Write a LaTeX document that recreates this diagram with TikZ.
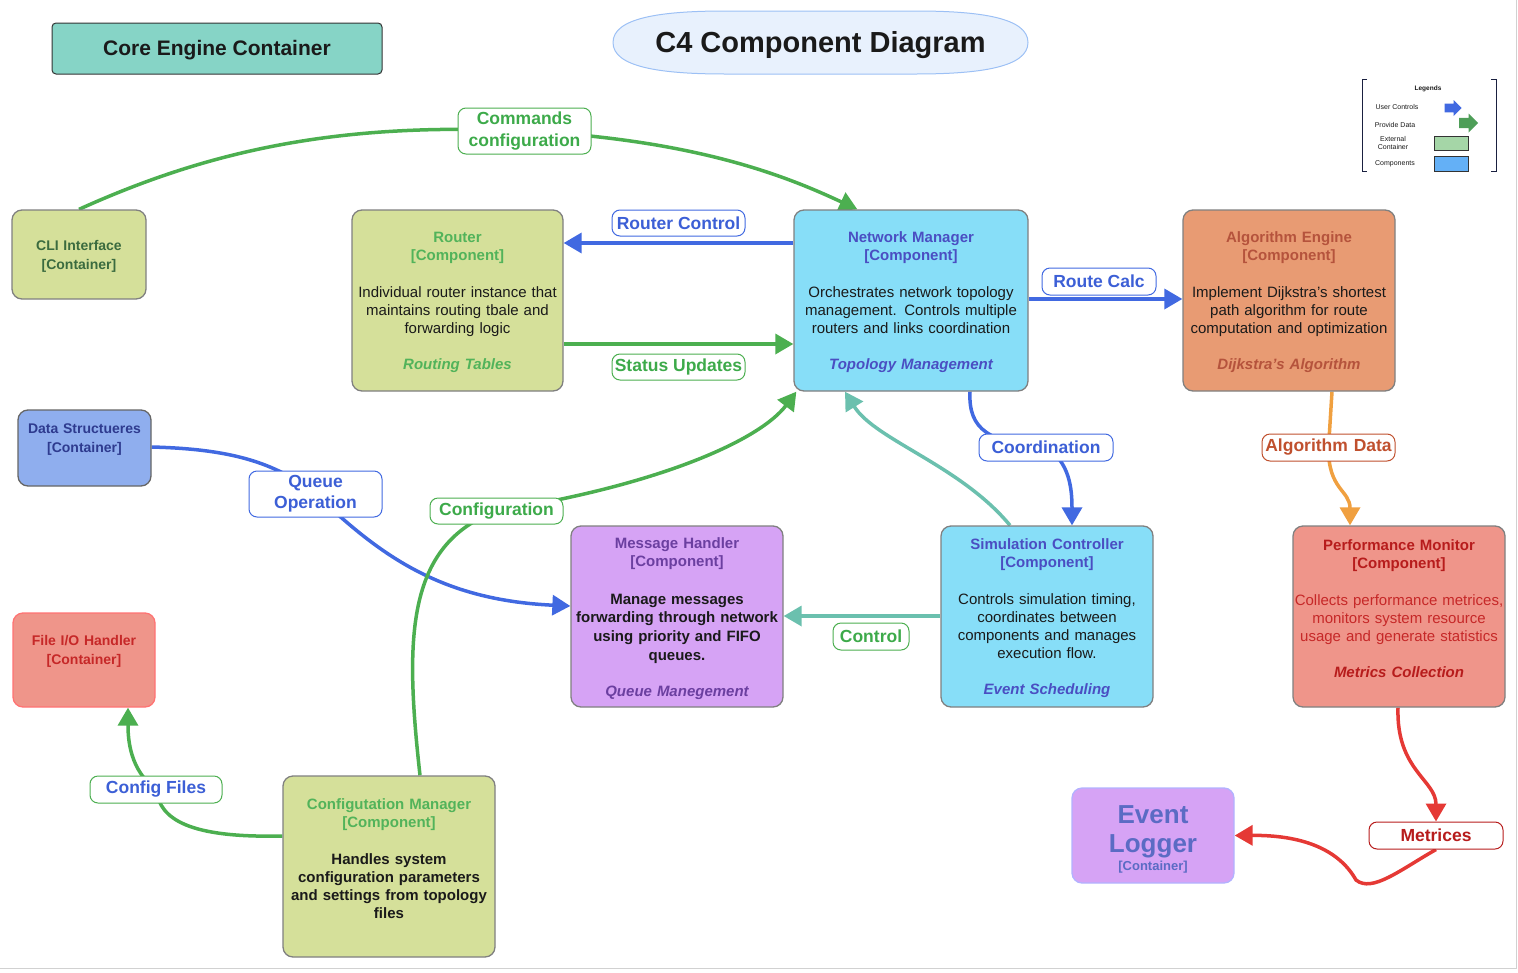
\documentclass[tikz,border=0pt]{standalone}
\usepackage{fontspec}
\setmainfont{Liberation Sans}
\usetikzlibrary{arrows.meta,shapes.geometric,shapes.arrows,calc}
\definecolor{ygfill}{HTML}{D5E09A}
\definecolor{cyfill}{HTML}{87DEF8}
\definecolor{orfill}{HTML}{E89B73}
\definecolor{dsfill}{HTML}{8FAEEE}
\definecolor{rdfill}{HTML}{EF958A}
\definecolor{pufill}{HTML}{D6A3F5}
\definecolor{tlfill}{HTML}{86D4C6}
\definecolor{boxgray}{HTML}{808080}
\definecolor{bodyc}{HTML}{1A1A1A}
\definecolor{gtxt}{HTML}{52B35A}
\definecolor{btxt}{HTML}{4A4EC2}
\definecolor{otxt}{HTML}{B5533C}
\definecolor{ptxt}{HTML}{6B3FA0}
\definecolor{rtxt}{HTML}{B71C1C}
\definecolor{rbody}{HTML}{C62828}
\definecolor{dstxt}{HTML}{2E3B8F}
\definecolor{clitxt}{HTML}{3B6B3F}
\definecolor{eltxt}{HTML}{5B6BC4}
\definecolor{lgreen}{HTML}{4CAF50}
\definecolor{lblue}{HTML}{4169E1}
\definecolor{lteal}{HTML}{6BC0AE}
\definecolor{lorange}{HTML}{F0A040}
\definecolor{lred}{HTML}{E53935}
\definecolor{lbltxt}{HTML}{3C5FD6}
\definecolor{lgltxt}{HTML}{3DAA4A}
\definecolor{altxt}{HTML}{C0502E}
\definecolor{navy}{HTML}{1A2040}
\definecolor{titlefill}{HTML}{E8F1FD}
\definecolor{titledraw}{HTML}{9CC0F5}
\definecolor{lgext}{HTML}{A5D6A7}
\definecolor{lgcomp}{HTML}{64B0F6}
\definecolor{lgarrg}{HTML}{4E9E58}
\newcommand\myfs[2]{\fontsize{#1}{#2}\selectfont}
\pgfdeclarelayer{edges}
\pgfsetlayers{edges,main}
\tikzset{
  box/.style={draw=boxgray, line width=1.3pt, rounded corners=10pt, inner sep=0pt},
  txt/.style={text width=260pt, align=center, inner sep=0pt, text=bodyc, font=\myfs{15}{18}},
  lbl/.style={draw, fill=white, rounded corners=8pt, line width=1pt, align=center, inner sep=0pt, font=\bfseries\myfs{17.5}{21}},
  conn/.style={line width=3.5pt},
  tip/.style={-{Triangle[length=18pt,width=20pt]}},
  lgd/.style={font=\myfs{7}{8}, inner sep=0pt, align=center, text=bodyc},
  lgarrow/.style={single arrow, single arrow head extend=3pt, inner sep=3.5pt}
}
\begin{document}
\begin{tikzpicture}[x=1pt,y=-1pt]
\useasboundingbox (0,0) rectangle (1518,972);
\draw[draw=black!18, line width=1pt] (0,968) -- (1516.5,968) -- (1516.5,0);

% header
\node[draw=black!80, fill=tlfill, rounded corners=4pt, line width=1pt, minimum width=330pt, minimum height=51pt] (core) at (217,48.5) {};
\node[inner sep=0pt, font=\bfseries\myfs{21}{24}, text=bodyc] (coretxt) at (217,50) {Core Engine Container};
\draw[draw=titledraw, fill=titlefill, line width=1pt] (613,42.5) .. controls (613,18) and (660,11) .. (725,11) -- (916,11) .. controls (981,11) and (1028,18) .. (1028,42.5) .. controls (1028,67) and (981,74) .. (916,74) -- (725,74) .. controls (660,74) and (613,67) .. (613,42.5) -- cycle;
\node[inner sep=0pt, font=\bfseries\myfs{29}{34}, text=bodyc] (title) at (820.5,45.5) {C4 Component Diagram};

% legend
\draw[navy, line width=1pt] (1367,79) -- (1362,79) -- (1362,171) -- (1367,171);
\draw[navy, line width=1pt] (1491,79) -- (1496,79) -- (1496,171) -- (1491,171);
\node[lgd, font=\bfseries\myfs{6.5}{8}] (lgtitle) at (1428,89) {Legends};
\node[lgd] (lguc) at (1397,107) {User Controls};
\node[lgarrow, fill=lblue, minimum width=16pt, minimum height=17pt] (lgarr1) at (1451,108) {};
\node[lgd] (lgpd) at (1395,125) {Provide Data};
\node[lgarrow, fill=lgarrg, minimum width=19pt, minimum height=19pt] (lgarr2) at (1466,123) {};
\node[lgd, font=\myfs{7}{7.5}] (lgec) at (1393,143) {External\\Container};
\node[draw=black!80, fill=lgext, line width=0.8pt, minimum width=34pt, minimum height=14pt, inner sep=0pt] (lgbox1) at (1451,143) {};
\node[lgd] (lgcp) at (1395,164) {Components};
\node[draw=black!80, fill=lgcomp, line width=0.8pt, minimum width=34pt, minimum height=15pt, inner sep=0pt] (lgbox2) at (1451,163.5) {};

% boxes
\node[box, fill=ygfill, minimum width=134pt, minimum height=89pt] (cli) at (79,254.5) {};
\node[txt, text=clitxt, font=\bfseries\myfs{14}{19}] (clitxt) at (79,256) {CLI Interface\\{[Container]}};

\node[box, fill=ygfill, minimum width=211pt, minimum height=181pt] (router) at (457.5,300.5) {};
\node[txt] (routertxt) at (457.5,302.5) {{\bfseries\color{gtxt}Router\\{[Component]}}\\[18.5pt]Individual router instance that\\maintains routing tbale and\\forwarding logic\\[18.5pt]{\bfseries\itshape\color{gtxt}Routing Tables}};

\node[box, fill=cyfill, minimum width=234pt, minimum height=181pt] (nm) at (911,300.5) {};
\node[txt] (nmtxt) at (911,302.5) {{\bfseries\color{btxt}Network Manager\\{[Component]}}\\[18.5pt]Orchestrates network topology\\management. Controls multiple\\routers and links coordination\\[18.5pt]{\bfseries\itshape\color{btxt}Topology Management}};

\node[box, fill=orfill, minimum width=212pt, minimum height=181pt] (alg) at (1289,300.5) {};
\node[txt] (algtxt) at (1289,302.5) {{\bfseries\color{otxt}Algorithm Engine\\{[Component]}}\\[18.5pt]Implement Dijkstra's shortest\\path algorithm for route\\computation and optimization\\[18.5pt]{\bfseries\itshape\color{otxt}Dijkstra's Algorithm}};

\node[box, draw=black!60, fill=dsfill, minimum width=133pt, minimum height=76pt] (ds) at (84.5,448) {};
\node[txt, text=dstxt, font=\bfseries\myfs{14}{19}] (dstxt) at (84.5,439.5) {Data Structueres\\{[Container]}};

\node[box, draw=red!55!white, fill=rdfill, minimum width=142pt, minimum height=94pt] (fio) at (84,660) {};
\node[txt, text=rbody, font=\bfseries\myfs{14}{19}] (fiotxt) at (84,651.5) {File I/O Handler\\{[Container]}};

\node[box, fill=pufill, minimum width=212pt, minimum height=181pt] (mh) at (677,616.5) {};
\node[txt] (mhtxt) at (677,618.5) {{\bfseries\color{ptxt}Message Handler\\{[Component]}}\\[19pt]{\bfseries\myfs{15}{18.7}Manage messages\\forwarding through network\\using priority and FIFO\\queues.\par}\vspace{18pt}{\bfseries\itshape\color{ptxt}Queue Manegement}};

\node[box, fill=cyfill, minimum width=212pt, minimum height=181pt] (sim) at (1047,616.5) {};
\node[txt] (simtxt) at (1047,618) {{\bfseries\color{btxt}Simulation Controller\\{[Component]}}\\[18.5pt]Controls simulation timing,\\coordinates between\\components and manages\\execution flow.\\[18pt]{\bfseries\itshape\color{btxt}Event Scheduling}};

\node[box, fill=rdfill, minimum width=212pt, minimum height=181pt] (perf) at (1399,616.5) {};
\node[txt, text=rbody] (perftxt) at (1399,608.5) {{\bfseries\color{rtxt}Performance Monitor\\{[Component]}}\\[18.5pt]Collects performance metrices,\\monitors system resource\\usage and generate statistics\\[18pt]{\bfseries\itshape\color{rtxt}Metrics Collection}};

\node[box, fill=ygfill, minimum width=212pt, minimum height=181pt] (cfg) at (389,866.5) {};
\node[txt] (cfgtxt) at (389,859) {{\bfseries\color{gtxt}Configutation Manager\\{[Component]}}\\[19pt]{\bfseries Handles system\\configuration parameters\\and settings from topology\\files}};

\node[box, draw=blue!30!white, fill=pufill, minimum width=162pt, minimum height=95pt] (el) at (1153,835.5) {};
\node[txt, text=eltxt] (eltxt) at (1153,839) {{\bfseries\myfs{26}{29}Event\\Logger\par}{\bfseries\myfs{13}{16}[Container]}};

% edge labels
\node[lbl, draw=lgreen, text=lgltxt, minimum width=133pt, minimum height=46pt, font=\bfseries\myfs{17.5}{22}] (cmdlbl) at (524.5,131) {Commands\\configuration};
\node[lbl, draw=lblue, text=lbltxt, minimum width=133pt, minimum height=26pt] (rclbl) at (678.5,223) {Router Control};
\node[lbl, draw=lgreen, text=lgltxt, minimum width=133pt, minimum height=26pt] (sulbl) at (678.5,367) {Status Updates};
\node[lbl, draw=lblue, text=lbltxt, minimum width=114pt, minimum height=27pt] (rcalc) at (1099,281.5) {Route Calc};
\node[lbl, draw=lblue, text=lbltxt, minimum width=134pt, minimum height=27pt] (coord) at (1046,447.5) {Coordination};
\node[lbl, draw=altxt, text=altxt, minimum width=133pt, minimum height=27pt] (algdata) at (1328.5,447.5) {Algorithm\,\,Data};
\node[lbl, draw=lblue, text=lbltxt, minimum width=133pt, minimum height=46pt, font=\bfseries\myfs{17.5}{21}] (qop) at (315.5,494) {Queue\\Operation};
\node[lbl, draw=lgreen, text=lgltxt, minimum width=133pt, minimum height=26pt] (cfglbl) at (496.5,511) {Configuration};
\node[lbl, draw=lgreen, text=lgltxt, minimum width=76pt, minimum height=27pt] (ctrl) at (871,636.5) {Control};
\node[lbl, draw=lgreen, text=lbltxt, minimum width=132pt, minimum height=27pt] (cfiles) at (156,789.5) {Config Files};
\node[lbl, draw=rtxt, text=rtxt, minimum width=134pt, minimum height=27pt] (metr) at (1436,835.5) {Metrices};

% connectors
\begin{pgfonlayer}{edges}
\draw[conn, lgreen, tip] (cli.north) .. controls (210,150) and (340,122) .. (cmdlbl.center) .. controls (700,140) and (790,178) .. ([xshift=64pt]nm.north west);
\draw[conn, lblue, tip] (nm.west |- 0,243) -- (router.east |- 0,243);
\draw[conn, lgreen, tip] (router.east |- 0,344) -- (nm.west |- 0,344);
\draw[conn, lblue, tip] (nm.east |- 0,299) -- (alg.west |- 0,299);
\draw[conn, lblue, tip] (nm.south -| 970,0) .. controls (968,430) and (990,443) .. (coord.center) .. controls (1070,462) and (1072,490) .. (sim.north -| 1072,0);
\draw[conn, lorange, tip] (alg.south -| 1332,0) -- (algdata.center) .. controls (1328,490) and (1350,490) .. (perf.north -| 1350,0);
\draw[conn, lblue, tip] (ds.east |- 0,447) .. controls (230,449) and (275,462) .. (qop.center) .. controls (380,555) and (440,600) .. (mh.west |- 0,606);
\draw[conn, lgreen, tip] (cfg.north -| 420,0) .. controls (405,640) and (405,545) .. (cfglbl.center) .. controls (660,485) and (760,440) .. ([xshift=3pt]nm.south west);
\draw[conn, lteal, tip] (sim.north -| 1010,0) .. controls (960,465) and (875,440) .. (nm.south -| 845,0);
\draw[conn, lteal, tip] (sim.west |- 0,616) -- (mh.east |- 0,616);
\draw[conn, lgreen, tip] (cfg.west |- 0,836) .. controls (190,838) and (160,820) .. (cfiles.center) .. controls (130,770) and (128,740) .. (fio.south -| 128,0);
\draw[conn, lred, tip] (perf.south -| 1398,0) .. controls (1396,770) and (1436,780) .. (metr.north);
\draw[conn, lred, tip] (metr.south) .. controls (1400,870) and (1372,893) .. (1356,880) .. controls (1338,848) and (1300,835) .. (el.east);
\end{pgfonlayer}
\end{tikzpicture}
\end{document}
